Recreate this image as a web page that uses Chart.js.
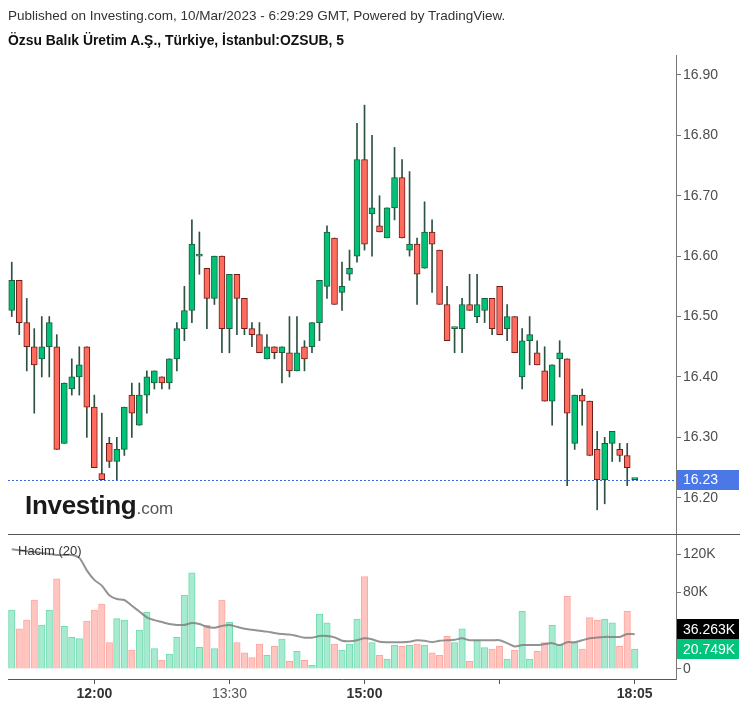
<!DOCTYPE html>
<html>
<head>
<meta charset="utf-8">
<script src="https://cdn.jsdelivr.net/npm/chart.js@4.4.0/dist/chart.umd.min.js"></script>
<style>
  body { margin: 0; background: #fff; font-family: 'Liberation Sans', Arial, sans-serif; }
  #wrap { position: relative; width: 747px; height: 707px; overflow: hidden; }
  #chart { position: absolute; left: 0; top: 0; }
  .txt { position: absolute; white-space: nowrap; }
</style>
</head>
<body>
<div id="wrap">
  <canvas id="chart" width="747" height="707"></canvas>
  <div class="txt" style="left:8px;top:8px;font-size:13.5px;line-height:16px;color:#333">Published on Investing.com, 10/Mar/2023 - 6:29:29 GMT, Powered by TradingView.</div>
  <div class="txt" style="left:8px;top:32px;font-size:13.9px;line-height:16px;font-weight:bold;color:#111">Özsu Balık Üretim A.Ş., Türkiye, İstanbul:OZSUB, 5</div>
  <div class="txt" style="left:25px;top:492px;line-height:26px"><span style="font-size:26px;font-weight:bold;color:#1a1a1a;letter-spacing:-0.3px">Investing</span><span style="font-size:17px;color:#555">.com</span></div>
  <div class="txt" style="left:18px;top:544px;font-size:13px;line-height:14px;color:#333">Hacim (20)</div>
</div>
<script>
// 5 minute bars, Borsa Istanbul, 10 Mar 2023
const times = [
  '11:05','11:10','11:15','11:20','11:25','11:30','11:35','11:40','11:45','11:50','11:55',
  '12:00','12:05','12:10','12:15','12:20','12:25','12:30','12:35','12:40','12:45','12:50','12:55',
  '13:00','13:05','13:10','13:15','13:20','13:25','13:30','13:35','13:40','13:45','13:50','13:55',
  '14:00','14:05','14:10','14:15','14:20','14:25','14:30','14:35','14:40','14:45','14:50','14:55',
  '15:00','15:05','15:10','15:15','15:20','15:25','15:30','15:35','15:40','15:45','15:50','15:55',
  '16:00','16:05','16:10','16:15','16:20','16:25','16:30','16:35','16:40','16:45','16:50','16:55',
  '17:00','17:05','17:10','17:15','17:20','17:25','17:30','17:35','17:40','17:45','17:50','17:55',
  '18:05'
];

const opens = [
  16.51,16.56,16.49,16.45,16.43,16.45,16.45,16.29,16.38,16.40,16.45,
  16.35,16.24,16.29,16.26,16.28,16.37,16.32,16.37,16.39,16.40,16.39,16.43,
  16.48,16.51,16.60,16.58,16.53,16.60,16.48,16.57,16.53,16.48,16.47,16.43,
  16.45,16.44,16.44,16.41,16.45,16.45,16.49,16.55,16.63,16.54,16.57,16.60,
  16.76,16.67,16.65,16.63,16.68,16.73,16.61,16.62,16.58,16.64,16.61,16.52,
  16.48,16.48,16.52,16.50,16.51,16.53,16.55,16.48,16.50,16.40,16.46,16.44,
  16.41,16.36,16.43,16.43,16.29,16.37,16.36,16.28,16.23,16.29,16.28,16.27,
  16.23
];
const highs = [
  16.59,16.56,16.53,16.48,16.50,16.50,16.47,16.39,16.43,16.45,16.45,
  16.37,16.34,16.30,16.30,16.35,16.39,16.39,16.41,16.41,16.40,16.43,16.49,
  16.55,16.66,16.64,16.58,16.60,16.60,16.57,16.57,16.53,16.49,16.49,16.47,
  16.45,16.45,16.50,16.50,16.46,16.49,16.56,16.65,16.63,16.59,16.61,16.82,
  16.85,16.80,16.70,16.68,16.78,16.76,16.74,16.63,16.69,16.66,16.61,16.55,
  16.48,16.53,16.57,16.57,16.53,16.53,16.55,16.52,16.50,16.48,16.50,16.46,
  16.45,16.42,16.46,16.43,16.37,16.38,16.36,16.31,16.30,16.31,16.29,16.29,
  16.23
];
const lows = [
  16.50,16.47,16.41,16.34,16.40,16.40,16.28,16.29,16.37,16.37,16.30,
  16.25,16.23,16.25,16.23,16.27,16.30,16.32,16.34,16.38,16.38,16.38,16.41,
  16.46,16.49,16.57,16.48,16.52,16.44,16.44,16.47,16.47,16.45,16.44,16.43,
  16.43,16.39,16.40,16.41,16.41,16.44,16.46,16.53,16.52,16.51,16.56,16.59,
  16.61,16.60,16.64,16.63,16.66,16.63,16.60,16.52,16.58,16.54,16.52,16.46,
  16.44,16.44,16.51,16.49,16.49,16.47,16.47,16.46,16.44,16.38,16.42,16.42,
  16.36,16.32,16.40,16.22,16.28,16.32,16.27,16.18,16.19,16.26,16.26,16.22,
  16.23
];
const closes = [
  16.56,16.49,16.45,16.42,16.45,16.49,16.28,16.39,16.40,16.42,16.35,
  16.25,16.23,16.26,16.28,16.35,16.34,16.37,16.40,16.41,16.39,16.43,16.48,
  16.51,16.62,16.60,16.53,16.60,16.48,16.57,16.53,16.48,16.47,16.44,16.45,
  16.44,16.45,16.41,16.44,16.43,16.49,16.56,16.64,16.52,16.55,16.58,16.76,
  16.62,16.68,16.64,16.68,16.73,16.63,16.62,16.57,16.64,16.62,16.52,16.46,
  16.48,16.52,16.51,16.52,16.53,16.48,16.47,16.50,16.44,16.46,16.47,16.42,
  16.36,16.42,16.44,16.34,16.37,16.36,16.27,16.23,16.29,16.31,16.27,16.25,
  16.23
];

// volume in thousands of shares
const volumes = [
  61.6,41.8,51.1,72.0,45.9,61.6,94.0,44.5,33.0,31.7,50.0,
  61.6,67.8,27.5,52.5,51.1,19.8,40.7,59.2,21.2,9.4,15.7,33.0,
  77.2,100.5,22.6,45.6,21.2,72.0,48.7,27.5,17.0,11.8,26.0,14.3,
  23.7,31.3,8.0,18.4,9.0,3.8,57.4,48.3,26.0,19.8,26.0,52.0,
  96.4,27.5,14.3,10.4,24.7,23.7,24.7,26.0,24.7,17.0,14.3,34.0,
  27.5,41.8,8.0,30.3,22.3,20.9,23.7,10.4,19.8,60.2,10.4,18.4,
  27.5,45.6,24.7,75.8,27.5,20.9,53.6,51.1,52.2,48.3,23.7,60.2,
  20.749
];
// 20 period volume average
const volumeMA = [
  125,124,123,122,121,120,119,119,119,116,103,
  93,87,77,73,72,66,60,54,51,49,47,46,
  46,48,47,44,43,45,46,44,42,41,40,39,
  37.6,36.5,36,34.4,32.7,32.7,34.4,34.4,33,29.5,29,30,
  32,31,28.5,28,28,28,28.5,30,29.5,28,29.5,30,
  30.5,32,30,30,30,30,30,27,23.5,25,25,25,
  26,27,25,28,28,30,32,33,33.5,33.5,33.5,36.5,
  36.263
];

// axis ticks
const priceTicks = [16.2, 16.3, 16.4, 16.5, 16.6, 16.7, 16.8, 16.9];
const volumeTicks = [0, 80, 120];
const timeTicks = ['12:00', '13:30', '15:00', '16:30', '18:05'];
const boldTimes = ['12:00', '15:00', '18:05'];
const hiddenTimes = ['16:30'];

const lastPrice = 16.23;
const lastVolumeText = '20.749K';
const lastMAText = '36.263K';

const FONT = "'Liberation Sans', Arial, sans-serif";
const upFill = '#00c277', upLine = '#1c5d3e';
const downFill = '#ff6b5d', downLine = '#6e1d1a';
const wickColor = '#2c5240';

// empty slots on the right, like the chart's right margin
const labels = times.concat(['', '', '', '', '']);
const isUp = opens.map((o, i) => closes[i] >= o);

const extras = {
  id: 'extras',
  beforeDatasetsDraw(chart) {
    const {ctx, chartArea, scales} = chart;
    const y = Math.round(scales.y.getPixelForValue(lastPrice)) + 0.5;
    ctx.save();
    ctx.strokeStyle = '#3f67dd';
    ctx.lineWidth = 1;
    ctx.setLineDash([2, 2]);
    ctx.beginPath();
    ctx.moveTo(chartArea.left, y);
    ctx.lineTo(chartArea.right, y);
    ctx.stroke();
    ctx.restore();
  },
  afterDraw(chart) {
    const {ctx, chartArea, scales} = chart;
    ctx.save();
    // line between price and volume panes
    const sep = Math.round(scales.yv.top) + 0.5;
    ctx.strokeStyle = '#555';
    ctx.lineWidth = 1;
    ctx.beginPath();
    ctx.moveTo(chartArea.left, sep);
    ctx.lineTo(740, sep);
    ctx.stroke();

    const badge = (y, text, bg) => {
      const x = chartArea.right + 1;
      ctx.fillStyle = bg;
      ctx.fillRect(x, Math.round(y - 10), 62, 20);
      ctx.fillStyle = '#fff';
      ctx.font = '14px ' + FONT;
      ctx.textBaseline = 'middle';
      ctx.textAlign = 'left';
      ctx.fillText(text, x + 6, y + 1);
    };
    badge(scales.y.getPixelForValue(lastPrice), lastPrice.toFixed(2), '#4a78e6');
    const gY = scales.yv.getPixelForValue(volumes[volumes.length - 1]);
    const bY = Math.min(scales.yv.getPixelForValue(volumeMA[volumeMA.length - 1]), gY - 20);
    badge(bY, lastMAText, '#000');
    badge(gY, lastVolumeText, '#00c57a');
    ctx.restore();
  }
};

const ctx = document.getElementById('chart').getContext('2d');
new Chart(ctx, {
  type: 'bar',
  data: {
    labels: labels,
    datasets: [
      {
        // volume average
        type: 'line',
        yAxisID: 'yv',
        data: volumeMA,
        borderColor: 'rgba(128,128,128,0.85)',
        borderWidth: 2,
        pointRadius: 0,
        tension: 0.3,
        order: 0
      },
      {
        // volume bars
        yAxisID: 'yv',
        data: volumes,
        grouped: false,
        barThickness: 6.5,
        borderWidth: 1,
        borderSkipped: 'bottom',
        backgroundColor: isUp.map(u => u ? '#a6ebcf' : '#ffc6c1'),
        borderColor: isUp.map(u => u ? '#6fdcb1' : '#ffa69f'),
        order: 5
      },
      {
        // wicks
        yAxisID: 'y',
        data: lows.map((l, i) => [l, highs[i]]),
        grouped: false,
        barThickness: 1,
        backgroundColor: wickColor,
        borderWidth: 0,
        order: 3
      },
      {
        // candle bodies
        yAxisID: 'y',
        data: opens.map((o, i) => [o, closes[i]]),
        grouped: false,
        barThickness: 6,
        minBarLength: 2,
        borderWidth: 1,
        borderSkipped: false,
        backgroundColor: isUp.map(u => u ? upFill : downFill),
        borderColor: isUp.map(u => u ? upLine : downLine),
        order: 2
      }
    ]
  },
  options: {
    responsive: false,
    animation: false,
    layout: { padding: { left: 8, top: 55, right: 0, bottom: 0 } },
    plugins: { legend: { display: false }, tooltip: { enabled: false } },
    scales: {
      x: {
        type: 'category',
        offset: true,
        grid: { display: true, offset: false, drawOnChartArea: false, drawTicks: true, tickLength: 5, color: '#555' },
        border: { display: true, color: '#555' },
        afterBuildTicks: (axis) => {
          axis.ticks = timeTicks.map(t => ({ value: times.indexOf(t) }));
        },
        afterFit: (axis) => { axis.height = 28; },
        ticks: {
          autoSkip: false,
          maxRotation: 0,
          padding: 2,
          callback: (v) => hiddenTimes.includes(times[v]) ? '' : times[v],
          color: (c) => boldTimes.includes(c.tick.label) ? '#333' : '#555',
          font: (c) => ({ family: FONT, size: 14, weight: boldTimes.includes(c.tick.label) ? 'bold' : 'normal' })
        }
      },
      y: {
        type: 'linear',
        position: 'right',
        stack: 'panes',
        stackWeight: 479,
        min: 16.14,
        max: 16.933,
        afterBuildTicks: (axis) => { axis.ticks = priceTicks.map(v => ({ value: v })); },
        afterFit: (axis) => { axis.width = 71; },
        grid: { drawOnChartArea: false, tickLength: 5, color: '#777' },
        border: { color: '#777' },
        ticks: {
          padding: 2,
          color: '#4d4d4d',
          font: { family: FONT, size: 14 },
          callback: (v) => v.toFixed(2)
        }
      },
      yv: {
        type: 'linear',
        position: 'right',
        stack: 'panes',
        stackWeight: 145,
        min: -10.44,
        max: 140.9,
        afterBuildTicks: (axis) => { axis.ticks = volumeTicks.map(v => ({ value: v })); },
        afterFit: (axis) => { axis.width = 71; },
        grid: { drawOnChartArea: false, tickLength: 5, color: '#777' },
        border: { color: '#777' },
        ticks: {
          padding: 2,
          color: '#4d4d4d',
          font: { family: FONT, size: 14 },
          callback: (v) => v === 0 ? '0' : v + 'K'
        }
      }
    }
  },
  plugins: [extras]
});
</script>
</body>
</html>
